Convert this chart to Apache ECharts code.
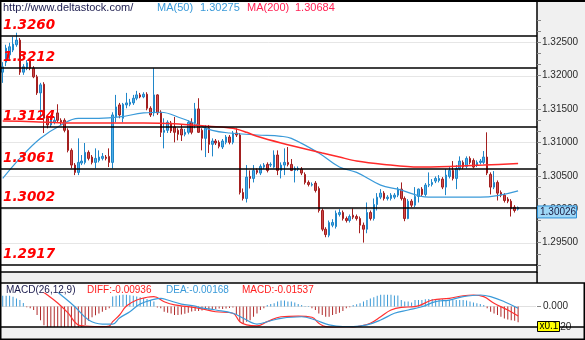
<!DOCTYPE html>
<html>
<head>
<meta charset="utf-8">
<script src="https://cdn.jsdelivr.net/npm/echarts@6/dist/echarts.min.js"></script>
<style>
  html, body { margin: 0; padding: 0; background: #fff; }
  #chart { width: 585px; height: 340px; }
</style>
</head>
<body>
<div id="chart"></div>
<script>
// Daily quotes: [open, close, low, high]
const candles = [
  [1.3205,1.3213,1.3189,1.3220],[1.3220,1.3241,1.3214,1.3246],[1.3231,1.3243,1.3223,1.3249],[1.3238,1.3247,1.3235,1.3258],
  [1.3246,1.3253,1.3243,1.3264],[1.3253,1.3205,1.3201,1.3256],[1.3205,1.3213,1.3201,1.3217],[1.3211,1.3219,1.3208,1.3223],
  [1.3222,1.3211,1.3208,1.3225],[1.3211,1.3198,1.3196,1.3214],[1.3198,1.3174,1.3171,1.3201],[1.3174,1.3186,1.3136,1.3189],
  [1.3187,1.3136,1.3114,1.3190],[1.3136,1.3126,1.3121,1.3139],[1.3126,1.3136,1.3123,1.3141],[1.3130,1.3133,1.3127,1.3138],
  [1.3144,1.3133,1.3130,1.3157],[1.3133,1.3130,1.3126,1.3136],[1.3133,1.3118,1.3115,1.3136],[1.3118,1.3088,1.3085,1.3121],
  [1.3088,1.3066,1.3061,1.3091],[1.3066,1.3055,1.3051,1.3069],[1.3055,1.3070,1.3051,1.3106],[1.3069,1.3072,1.3066,1.3081],
  [1.3070,1.3085,1.3067,1.3099],[1.3085,1.3076,1.3073,1.3088],[1.3078,1.3070,1.3067,1.3081],[1.3070,1.3076,1.3061,1.3091],
  [1.3073,1.3078,1.3070,1.3088],[1.3076,1.3079,1.3073,1.3084],[1.3078,1.3076,1.3073,1.3081],[1.3079,1.3070,1.3063,1.3091],
  [1.3070,1.3141,1.3061,1.3145],[1.3138,1.3153,1.3130,1.3171],[1.3156,1.3141,1.3136,1.3159],[1.3136,1.3157,1.3130,1.3159],
  [1.3156,1.3159,1.3151,1.3174],[1.3157,1.3160,1.3154,1.3165],[1.3159,1.3166,1.3156,1.3171],[1.3166,1.3171,1.3163,1.3177],
  [1.3171,1.3168,1.3166,1.3174],[1.3168,1.3172,1.3166,1.3175],[1.3172,1.3151,1.3148,1.3175],[1.3151,1.3141,1.3138,1.3154],
  [1.3144,1.3171,1.3139,1.3211],[1.3171,1.3144,1.3141,1.3172],[1.3145,1.3115,1.3108,1.3148],[1.3115,1.3118,1.3091,1.3136],
  [1.3118,1.3130,1.3114,1.3133],[1.3129,1.3117,1.3114,1.3132],[1.3123,1.3115,1.3100,1.3138],[1.3118,1.3112,1.3103,1.3121],
  [1.3120,1.3111,1.3102,1.3126],[1.3112,1.3115,1.3109,1.3120],[1.3115,1.3130,1.3112,1.3133],[1.3130,1.3115,1.3112,1.3136],
  [1.3129,1.3150,1.3121,1.3159],[1.3150,1.3115,1.3114,1.3166],[1.3118,1.3106,1.3088,1.3121],[1.3106,1.3121,1.3078,1.3126],
  [1.3121,1.3097,1.3084,1.3126],[1.3097,1.3102,1.3079,1.3106],[1.3102,1.3099,1.3096,1.3105],[1.3100,1.3094,1.3091,1.3103],
  [1.3093,1.3102,1.3090,1.3105],[1.3100,1.3108,1.3097,1.3111],[1.3108,1.3100,1.3097,1.3111],[1.3100,1.3114,1.3097,1.3117],
  [1.3114,1.3111,1.3108,1.3121],[1.3111,1.3025,1.3022,1.3114],[1.3025,1.3016,1.3013,1.3031],[1.3016,1.3048,1.3010,1.3066],
  [1.3049,1.3046,1.3031,1.3058],[1.3046,1.3058,1.3040,1.3066],[1.3058,1.3055,1.3052,1.3061],[1.3054,1.3064,1.3051,1.3067],
  [1.3063,1.3066,1.3060,1.3069],[1.3067,1.3058,1.3055,1.3070],[1.3066,1.3067,1.3063,1.3070],[1.3063,1.3081,1.3061,1.3088],
  [1.3081,1.3058,1.3051,1.3088],[1.3058,1.3066,1.3046,1.3070],[1.3066,1.3070,1.3051,1.3091],[1.3070,1.3067,1.3064,1.3093],
  [1.3067,1.3058,1.3057,1.3075],[1.3058,1.3061,1.3040,1.3064],[1.3060,1.3061,1.3057,1.3064],[1.3060,1.3054,1.3051,1.3063],
  [1.3052,1.3040,1.3037,1.3055],[1.3040,1.3037,1.3034,1.3043],[1.3036,1.3037,1.3034,1.3040],[1.3039,1.3028,1.3025,1.3042],
  [1.3031,1.2998,1.2995,1.3034],[1.2998,1.2970,1.2967,1.3001],[1.2970,1.2962,1.2958,1.2973],[1.2961,1.2980,1.2958,1.2983],
  [1.2976,1.2980,1.2973,1.2985],[1.2974,1.2994,1.2971,1.2998],[1.2992,1.2995,1.2989,1.3000],[1.2995,1.2986,1.2983,1.2998],
  [1.2986,1.2983,1.2980,1.2989],[1.2983,1.2989,1.2980,1.2992],[1.2991,1.2988,1.2985,1.3001],[1.2989,1.2986,1.2983,1.2992],
  [1.2986,1.2976,1.2964,1.2989],[1.2976,1.2970,1.2950,1.2980],[1.2970,1.2995,1.2964,1.3010],[1.2995,1.2986,1.2983,1.2998],
  [1.2986,1.3007,1.2983,1.3016],[1.3007,1.3018,1.2998,1.3024],[1.3018,1.3024,1.3015,1.3030],[1.3024,1.3016,1.3013,1.3027],
  [1.3016,1.3018,1.3013,1.3021],[1.3016,1.3021,1.3013,1.3024],[1.3018,1.3021,1.3015,1.3024],[1.3021,1.3030,1.3018,1.3033],
  [1.3030,1.3016,1.3013,1.3040],[1.3016,1.2986,1.2982,1.3019],[1.2986,1.3012,1.2985,1.3015],[1.3012,1.3006,1.3003,1.3015],
  [1.3006,1.3019,1.3003,1.3033],[1.3019,1.3030,1.3010,1.3031],[1.3030,1.3022,1.3019,1.3033],[1.3022,1.3036,1.3019,1.3039],
  [1.3036,1.3037,1.3033,1.3055],[1.3037,1.3040,1.3034,1.3045],[1.3042,1.3046,1.3039,1.3049],[1.3043,1.3046,1.3040,1.3051],
  [1.3045,1.3033,1.3030,1.3048],[1.3033,1.3051,1.3021,1.3060],[1.3049,1.3058,1.3046,1.3063],[1.3058,1.3046,1.3043,1.3072],
  [1.3046,1.3061,1.3030,1.3066],[1.3061,1.3072,1.3058,1.3079],[1.3070,1.3063,1.3060,1.3073],[1.3064,1.3076,1.3061,1.3079],
  [1.3076,1.3070,1.3067,1.3079],[1.3073,1.3063,1.3061,1.3076],[1.3066,1.3070,1.3063,1.3073],[1.3070,1.3072,1.3067,1.3075],
  [1.3070,1.3078,1.3067,1.3087],[1.3078,1.3054,1.3051,1.3115],[1.3052,1.3033,1.3022,1.3055],[1.3033,1.3040,1.3030,1.3057],
  [1.3040,1.3024,1.3013,1.3043],[1.3025,1.3021,1.3018,1.3028],[1.3021,1.3013,1.3010,1.3024],[1.3015,1.3012,1.3009,1.3018],
  [1.3012,1.3001,1.2989,1.3015],[1.3003,1.2998,1.2995,1.3006],[1.3000,1.30026,1.2998,1.3004]
];

// Moving averages as [bar index, value]
const ma50 = [
  [0,1.3046],[5,1.3076],[11,1.3106],[17,1.3126],[22,1.3136],[28,1.3136],[34,1.3138],[41,1.3144],[46,1.3145],
  [52,1.3136],[57,1.3126],[61,1.3118],[66,1.3114],[74,1.3111],[81,1.3109],[84,1.3106],[92,1.3084],[98,1.3063],
  [103,1.3055],[110,1.3036],[115,1.3030],[124,1.3018],[139,1.3018],[150,1.30275]
];
const ma200 = [
  [0,1.3132],[9,1.3131],[19,1.3129],[28,1.3129],[41,1.3129],[50,1.3128],[60,1.3124],[67,1.3121],[71,1.3115],
  [74,1.3109],[81,1.3099],[93,1.3084],[98,1.3078],[103,1.3072],[111,1.3067],[121,1.3063],[130,1.3064],[140,1.3066],[150,1.30684]
];

// MACD(26,12,9) histogram, one value per bar
const macdHist = [
  0.0104,0.0104,0.0104,0.0094,0.0079,0.0064,0.0035,-0.0008,-0.0018,-0.0035,-0.0084,-0.0134,-0.0183,-0.0215,-0.0230,-0.0240,
  -0.0245,-0.0235,-0.0225,-0.0230,-0.0240,-0.0235,-0.0215,-0.0205,-0.0180,-0.0140,-0.0105,-0.0085,-0.0068,-0.0051,-0.0035,-0.0018,
  0.0097,0.0104,0.0110,0.0114,0.0114,0.0110,0.0104,0.0097,0.0091,0.0084,0.0074,0.0064,0.0048,-0.0010,-0.0018,-0.0051,
  -0.0061,-0.0068,-0.0084,-0.0084,-0.0078,-0.0070,-0.0060,-0.0050,-0.0045,-0.0045,-0.0040,-0.0035,-0.0030,-0.0025,-0.0025,-0.0020,
  -0.0025,-0.0020,-0.0015,-0.0010,-0.0084,-0.0150,-0.0166,-0.0150,-0.0134,-0.0101,-0.0068,-0.0035,-0.0018,0.0015,0.0025,0.0031,
  0.0048,0.0058,0.0058,0.0048,0.0048,0.0038,0.0025,0.0015,0.0005,0.0005,-0.0018,-0.0035,-0.0068,-0.0084,-0.0101,-0.0101,
  -0.0084,-0.0074,-0.0061,-0.0045,-0.0018,-0.0008,0.0015,0.0022,0.0031,0.0048,0.0064,0.0078,0.0091,0.0104,0.0114,0.0114,
  0.0114,0.0114,0.0108,0.0108,0.0064,0.0048,0.0048,0.0038,0.0064,0.0064,0.0064,0.0071,0.0074,0.0074,0.0074,0.0074,
  0.0071,0.0064,0.0064,0.0064,0.0064,0.0064,0.0064,0.0058,0.0048,0.0038,0.0031,0.0025,0.0015,-0.0018,-0.0051,-0.0068,
  -0.0084,-0.0101,-0.0117,-0.0127,-0.0134,-0.0140,-0.01537
];
const diffLine = [
  [0,0.030],[5,0.026],[10,0.018],[13,0.0112],[16,0.0034],[19,-0.0063],[22,-0.0180],[24,-0.0190],[29,-0.0197],[31,-0.0190],
  [32,-0.0148],[34,-0.0083],[36,0.0005],[39,0.0063],[42,0.0090],[44,0.0096],[47,0.0047],[50,0.0015],[54,-0.0002],[58,-0.0024],
  [62,-0.0051],[67,-0.0066],[69,-0.0148],[71,-0.0180],[74,-0.0190],[77,-0.0148],[81,-0.0100],[86,-0.0093],[90,-0.0105],
  [92,-0.0164],[94,-0.0197],[100,-0.0210],[104,-0.0190],[107,-0.0164],[110,-0.0100],[113,-0.0034],[116,-0.0008],[120,-0.0002],
  [125,0.0063],[130,0.0080],[134,0.0105],[137,0.0112],[140,0.0096],[143,0.0031],[147,-0.0034],[150,-0.00936]
];
const deaLine = [
  [0,0.032],[5,0.030],[10,0.025],[15,0.0165],[17,0.0112],[21,-0.0002],[25,-0.0132],[29,-0.0171],[32,-0.0171],[34,-0.0112],
  [37,-0.0051],[40,0.0024],[44,0.0070],[46,0.0080],[48,0.0063],[52,0.0024],[56,0.0005],[57,-0.0008],[62,-0.0034],[67,-0.0066],
  [70,-0.0115],[74,-0.0171],[78,-0.0139],[81,-0.0115],[87,-0.0100],[91,-0.0132],[95,-0.0180],[99,-0.0197],[102,-0.0197],
  [106,-0.0180],[110,-0.0132],[114,-0.0066],[118,-0.0034],[122,-0.0002],[126,0.0047],[130,0.0063],[134,0.0096],[139,0.0112],
  [142,0.0096],[146,0.0047],[150,-0.00168]
];

const levels = [1.3260, 1.3212, 1.3124, 1.3061, 1.3002, 1.2917];
const priceTicks = [1.295, 1.300, 1.305, 1.310, 1.315, 1.320, 1.325];
const macdTicks = [-0.02, 0];
const slotCount = 156;

const categories = Array.from({ length: slotCount }, (_, i) => String(i));
const minorTicks = [];
for (let k = -2; k <= 20; k++) minorTicks.push(+(priceTicks[0] + k * 0.005 / 3).toFixed(5));

const UP = '#4fade6', UP_EDGE = '#1f86c9', DOWN = '#cd4a4a', DOWN_EDGE = '#a31f1f';
const BLUE = '#3a9ad9', RED = '#ff2a2a';
const FONT = 'Liberation Sans, Arial, sans-serif';

const chart = echarts.init(document.getElementById('chart'), null, { renderer: 'canvas' });

const hiddenX = (gi) => ({
  type: 'category', gridIndex: gi, data: categories, boundaryGap: true,
  axisLine: { show: false }, axisTick: { show: false }, axisLabel: { show: false }, splitLine: { show: false }
});

chart.setOption({
  animation: false,
  backgroundColor: '#ffffff',
  grid: [
    { left: 1, right: 48, top: 2, bottom: 68 },
    { left: 1, right: 48, top: 293, bottom: 13 }
  ],
  xAxis: [hiddenX(0), hiddenX(1)],
  yAxis: [
    {
      type: 'value', gridIndex: 0, position: 'right', min: 1.2906, max: 1.3310, scale: true,
      axisLine: { show: true, lineStyle: { color: '#000', width: 1.5 } },
      axisTick: { show: true, customValues: minorTicks, length: 4, lineStyle: { color: '#888' } },
      axisLabel: { customValues: priceTicks, formatter: v => v.toFixed(5), color: '#2a2a2a', fontSize: 10, fontFamily: FONT, margin: 5 },
      splitLine: { show: false }
    },
    {
      type: 'value', gridIndex: 1, position: 'right', min: -0.02, max: 0.01317,
      axisLine: { show: false },
      axisTick: { show: true, customValues: macdTicks, length: 4, lineStyle: { color: '#888' } },
      axisLabel: { customValues: macdTicks, formatter: v => v.toFixed(3), color: '#2a2a2a', fontSize: 10, fontFamily: FONT, margin: 6 },
      splitLine: { show: false }
    }
  ],
  series: [
    {
      type: 'candlestick', xAxisIndex: 0, yAxisIndex: 0, data: candles, z: 3,
      barWidth: 2,
      itemStyle: { color: UP, color0: DOWN, borderColor: UP_EDGE, borderColor0: DOWN_EDGE, borderWidth: 1 },
      emphasis: { disabled: true },
      markLine: {
        silent: true, symbol: ['none', 'none'], animation: false, precision: 5,
        lineStyle: { color: '#000', width: 1.5, type: 'solid' },
        emphasis: { disabled: true },
        label: {
          show: true, position: 'insideStartTop', distance: [2, 3],
          formatter: p => Number(p.value).toFixed(4),
          color: '#ff0000', fontFamily: 'DejaVu Sans', fontWeight: 'bold', fontStyle: 'italic', fontSize: 13.5
        },
        data: levels.map(v => ({ yAxis: v }))
      }
    },
    {
      name: 'MA(50)', type: 'line', xAxisIndex: 0, yAxisIndex: 0, data: ma50, z: 4,
      showSymbol: false, smooth: 0.4, lineStyle: { color: BLUE, width: 1.2 }, silent: true
    },
    {
      name: 'MA(200)', type: 'line', xAxisIndex: 0, yAxisIndex: 0, data: ma200, z: 4,
      showSymbol: false, smooth: 0.3, lineStyle: { color: RED, width: 1.5 }, silent: true
    },
    {
      type: 'bar', xAxisIndex: 1, yAxisIndex: 1, data: macdHist, barWidth: 1, z: 2,
      itemStyle: { color: p => (p.value >= 0 ? '#3c9ad6' : '#b02a2a') },
      emphasis: { disabled: true }
    },
    {
      name: 'DIFF', type: 'line', xAxisIndex: 1, yAxisIndex: 1, data: diffLine, z: 4,
      showSymbol: false, smooth: 0.4, lineStyle: { color: '#ff3030', width: 1.2 }, silent: true
    },
    {
      name: 'DEA', type: 'line', xAxisIndex: 1, yAxisIndex: 1, data: deaLine, z: 4,
      showSymbol: false, smooth: 0.4, lineStyle: { color: BLUE, width: 1.2 }, silent: true
    }
  ]
});

// frame, grid lines, header texts and value tags
const lastClose = candles[candles.length - 1][1];
const lastOf = arr => arr[arr.length - 1][1];
const tagY = chart.convertToPixel({ yAxisIndex: 0 }, lastClose);
const lastMacd = macdHist[macdHist.length - 1];
const zeroY = chart.convertToPixel({ yAxisIndex: 1 }, 0);

const txt = (x, y, text, fill, size, extra) => ({
  type: 'text', x, y, z: 20, silent: true,
  style: Object.assign({ text, fill, font: (size || 11) + 'px ' + FONT, align: 'left', verticalAlign: 'middle' }, extra || {})
});
const box = (x, y, w, h, fill, z) => ({ type: 'rect', z: z, silent: true, shape: { x, y, width: w, height: h }, style: { fill } });
const hLine = (y, color, z) => ({
  type: 'line', z: z, silent: true,
  shape: { x1: 1.5, y1: Math.round(y) + 0.5, x2: 536, y2: Math.round(y) + 0.5 },
  style: { stroke: color, lineWidth: 1 }
});

const gridLines = priceTicks.map(v => hLine(chart.convertToPixel({ yAxisIndex: 0 }, v), '#e6e6e6', -1));

chart.setOption({
  graphic: [
    box(537, 2, 48, 281, '#f0f0f0', -1),
    box(0, 272, 585, 11, '#f0f0f0', -1),
    box(0, 327, 585, 13, '#f0f0f0', -1),
    ...gridLines,
    hLine(zeroY, '#e0e0e0', -1),
    box(0, 0, 585, 2, '#000', 15),
    box(0, 271.3, 537, 1.5, '#000', 15),
    box(536.3, 272, 1.5, 11, '#000', 15),
    box(0, 282.3, 585, 1.5, '#000', 15),
    box(0, 326.3, 585, 1.5, '#000', 15),
    box(0, 338.5, 585, 1.5, '#000', 15),
    box(0, 0, 1.5, 340, '#000', 15),
    box(583.5, 283, 1.5, 57, '#000', 15),

    txt(3, 8, 'http://www.deltastock.com/', '#1a1a4d', 11),
    txt(157, 8, 'MA(50)', BLUE, 11),
    txt(200, 8, lastOf(ma50).toFixed(5), BLUE, 11),
    txt(247, 8, 'MA(200)', '#ff2255', 11),
    txt(295, 8, lastOf(ma200).toFixed(5), '#ff2255', 11),

    txt(6, 290, 'MACD(26,12,9)', '#1a1a4d', 10),
    txt(87, 290, 'DIFF:' + lastOf(diffLine).toFixed(5), '#ff2020', 10),
    txt(166, 290, 'DEA:' + lastOf(deaLine).toFixed(5), BLUE, 10),
    txt(242, 290, 'MACD:' + lastMacd.toFixed(5), '#ff2020', 10),

    { type: 'rect', z: 18, silent: true, shape: { x: 537.5, y: tagY - 1.5, width: 39, height: 12 },
      style: { fill: '#9fd8f7', stroke: '#2b8fd6', lineWidth: 1 } },
    txt(540, tagY + 4.5, lastClose.toFixed(5), '#1a1a40', 10),

    { type: 'rect', z: 18, silent: true, shape: { x: 537.5, y: 321.5, width: 22, height: 10 },
      style: { fill: '#ffff00', stroke: '#000', lineWidth: 1 } },
    txt(539.5, 326.5, 'x0.1', '#000', 10)
  ]
});
</script>
</body>
</html>
